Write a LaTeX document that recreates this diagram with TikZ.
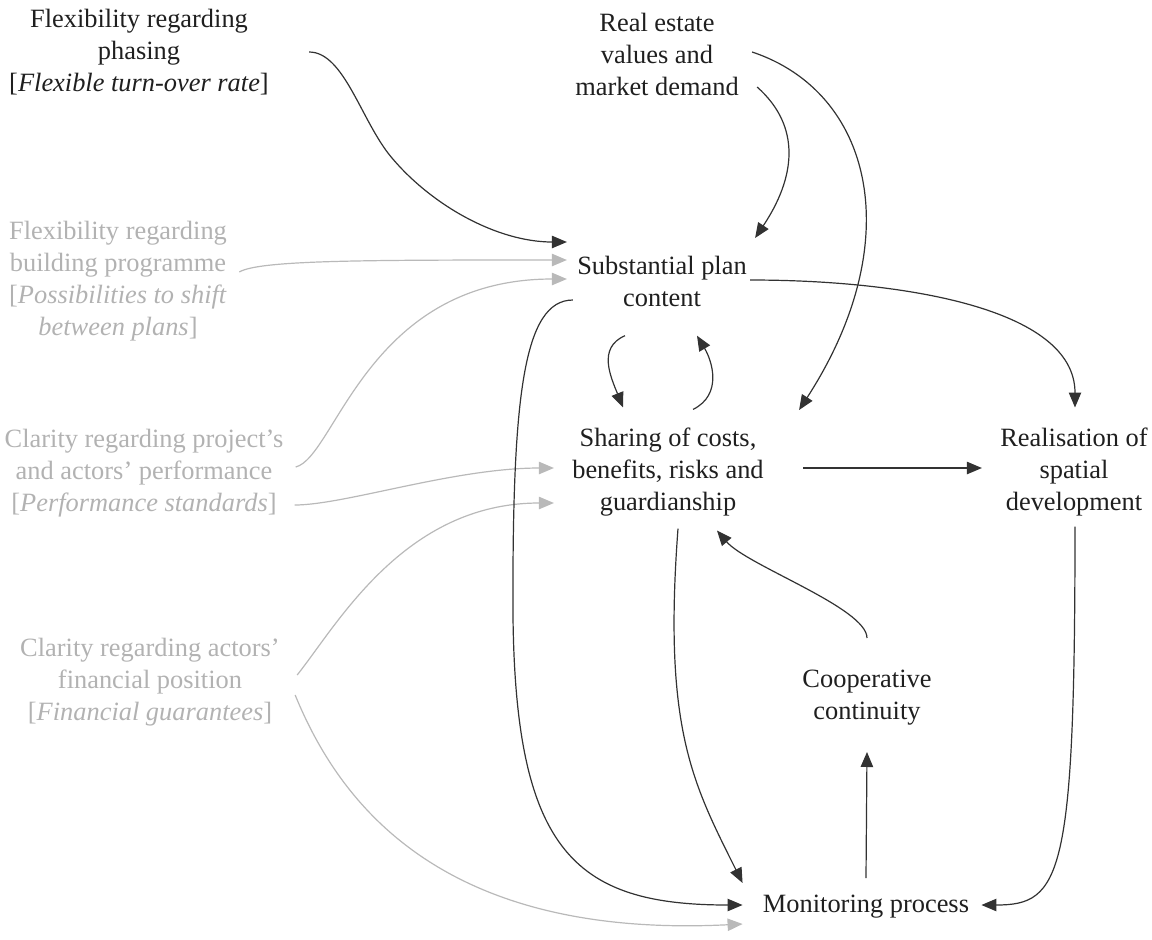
\documentclass[tikz,border=0pt]{standalone}
\usepackage{fontspec}
\setmainfont{Liberation Serif}
\usetikzlibrary{arrows.meta}
\definecolor{darkline}{RGB}{50,50,50}
\definecolor{lightline}{RGB}{185,185,185}
\definecolor{lighttext}{RGB}{178,178,178}

\begin{document}
\begin{tikzpicture}[x=0.5pt, y=-0.5pt]
    \tikzstyle{factor} = [align=center, inner sep=0pt, text=black!88, font=\fontsize{13.2}{16}\selectfont]
    \tikzstyle{faded} = [factor, text=lighttext]
    \tikzstyle{link} = [-{Triangle[length=7.5pt,width=6.2pt]}, draw=darkline, line width=0.6pt]
    \tikzstyle{fadedlink} = [link, draw=lightline]

    \useasboundingbox (0,0) rectangle (1152,939);

    % Conditions
    \node [factor] (phasing) at (139,52) {Flexibility regarding\\phasing\\{[}\textit{Flexible turn-over rate}]};
    \node [factor] (market) at (657,54) {Real estate\\values and\\market demand};
    \node [faded] (building) at (118,281) {Flexibility regarding\\building programme\\{[}\textit{Possibilities to shift}\\\textit{between plans}]};
    \node [faded] (project) at (144,473) {Clarity regarding project's\\and actors' performance\\{[}\textit{Performance standards}]};
    \node [faded] (financial) at (150,682) {Clarity regarding actors'\\financial position\\{[}\textit{Financial guarantees}]};

    % Process
    \node [factor] (subst) at (662,281) {Substantial plan\\content};
    \node [factor] (sharing) at (668,472) {Sharing of costs,\\benefits, risks and\\guardianship};
    \node [factor] (real) at (1074,472) {Realisation of\\spatial\\development};
    \node [factor] (coop) at (867,698) {Cooperative\\continuity};
    \node [factor] (monit) at (866,907) {Monitoring process};

    % Arrows from conditions
    \draw [link] ([shift={(40,0)}]phasing.east) .. controls +(35,0) and +(-30,-36) .. ++(82,105) .. controls +(40,48) and +(-70,0) .. ([shift={(-10,-39)}]subst.west);
    \draw [link] ([shift={(18,33)}]market.east) .. controls +(45,40) and +(40,-60) .. ([shift={(8,-43)}]subst.east);
    \draw [link] ([shift={(13,-2)}]market.east) .. controls +(120,40) and +(110,-170) .. ([shift={(35,-62)}]sharing.east);
    \draw [fadedlink] ([shift={(12,-9)}]building.east) .. controls +(20,-12) and +(-200,0) .. ([shift={(-10,-21)}]subst.west);
    \draw [fadedlink] ([shift={(12,-6)}]project.east) .. controls +(40,-10) and +(-200,0) .. ([shift={(-10,-2)}]subst.west);
    \draw [fadedlink] ([shift={(11,32)}]project.east) .. controls +(50,0) and +(-100,0) .. ([shift={(-18,-4)}]sharing.west);
    \draw [fadedlink] ([shift={(17,-7)}]financial.east) .. controls +(40,-50) and +(-150,0) .. ([shift={(-18,31)}]sharing.west);
    \draw [fadedlink] ([shift={(15,13)}]financial.east) .. controls +(45,110) and +(-300,15) .. ([shift={(-20,17)}]monit.west);

    % Arrows between process steps
    \draw [link] ([shift={(-4,19)}]subst.west) .. controls +(-50,0) and +(0,-200) .. ++(-60,300) .. controls +(0,250) and +(-170,0) .. ([shift={(-20,-2)}]monit.west);
    \draw [link] ([shift={(3,-1)}]subst.east) .. controls +(150,0) and +(0,-100) .. ([shift={(1,-20)}]real.north);
    \draw [link] ([shift={(-37,29)}]subst.south) .. controls +(-28,12) and +(-12,-30) .. ([shift={(-45,-20)}]sharing.north);
    \draw [link] ([shift={(25,-18)}]sharing.north) .. controls +(30,-15) and +(15,25) .. ([shift={(35,29)}]subst.south);
    \draw [link] ([shift={(39,-4)}]sharing.east) -- ([shift={(-18,-4)}]real.west);
    \draw [link] ([shift={(10,12)}]sharing.south) .. controls +(-15,200) and +(-50,-100) .. ([shift={(-20,-24)}]monit.west);
    \draw [link] ([shift={(0,-32)}]coop.north) .. controls +(0,-30) and +(30,35) .. ([shift={(49,14)}]sharing.south);
    \draw [link] ([shift={(0,-17)}]monit.north) -- ([shift={(0,26)}]coop.south);
    \draw [link] ([shift={(1,10)}]real.south) .. controls +(0,350) and +(80,0) .. ([shift={(12,-2)}]monit.east);
\end{tikzpicture}
\end{document}
